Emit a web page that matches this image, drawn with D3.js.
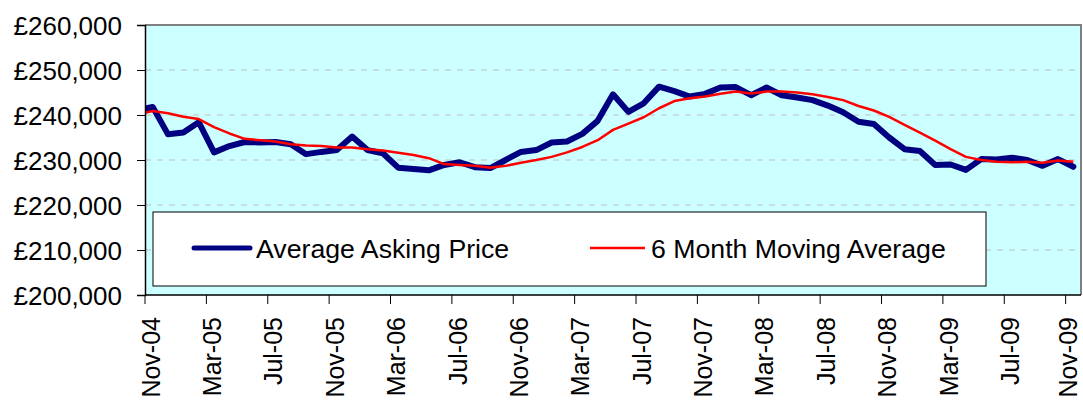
<!DOCTYPE html>
<html>
<head>
<meta charset="utf-8">
<script src="https://cdn.jsdelivr.net/npm/d3@7/dist/d3.min.js"></script>
<style>
  html, body { margin: 0; padding: 0; background: #ffffff; }
  svg { display: block; }
  text { font-family: "Liberation Sans", Arial, Helvetica, sans-serif; fill: #000; }
</style>
</head>
<body>
<svg id="chart" width="1083" height="401"></svg>
<script>
// Months (first one lies just left of the visible axis and is clipped)
const categories = [
  "Oct-04","Nov-04","Dec-04","Jan-05","Feb-05","Mar-05","Apr-05","May-05","Jun-05","Jul-05","Aug-05","Sep-05","Oct-05",
  "Nov-05","Dec-05","Jan-06","Feb-06","Mar-06","Apr-06","May-06","Jun-06","Jul-06","Aug-06","Sep-06","Oct-06",
  "Nov-06","Dec-06","Jan-07","Feb-07","Mar-07","Apr-07","May-07","Jun-07","Jul-07","Aug-07","Sep-07","Oct-07",
  "Nov-07","Dec-07","Jan-08","Feb-08","Mar-08","Apr-08","May-08","Jun-08","Jul-08","Aug-08","Sep-08","Oct-08",
  "Nov-08","Dec-08","Jan-09","Feb-09","Mar-09","Apr-09","May-09","Jun-09","Jul-09","Aug-09","Sep-09","Oct-09","Nov-09"
];
const askingPrice = [
  241100,241800,235700,236100,238400,231700,233100,234000,233900,234000,233500,231300,231800,
  232200,235200,232200,231500,228300,228000,227700,228900,229500,228400,228200,230000,
  231800,232200,233900,234100,235800,238700,244600,240700,242600,246300,245300,244100,
  244700,246100,246200,244400,246100,244400,243900,243300,242100,240600,238500,238000,
  235000,232400,232000,228900,229000,227800,230200,230100,230500,230000,228700,230200,228500
];
const movingAverage = [
  240100,240900,240400,239600,239100,237300,235900,234700,234400,234100,233500,233200,233100,
  232800,232800,232400,232100,231600,231100,230400,229100,228900,228700,228300,228700,
  229400,230000,230700,231700,232900,234400,236700,238100,239500,241500,243100,243700,
  244100,244700,245200,244800,245200,245200,245000,244600,244000,243300,242000,241000,
  239600,237800,236100,234300,232400,230700,230000,229600,229500,229600,229400,229900,229600
];
const tickLabels = ["Nov-04","Mar-05","Jul-05","Nov-05","Mar-06","Jul-06","Nov-06","Mar-07",
  "Jul-07","Nov-07","Mar-08","Jul-08","Nov-08","Mar-09","Jul-09","Nov-09"];
const yTicks = [200000,210000,220000,230000,240000,250000,260000];
const seriesNames = ["Average Asking Price","6 Month Moving Average"];

const svg = d3.select("#chart");
const L = 145, R = 1081, T = 25, B = 295;

// index scale: category i centred at i, first visible category (index 1) occupies [0.5,1.5]
const x = d3.scaleLinear().domain([0.5, categories.length - 0.5]).range([L, R]);
const y = d3.scaleLinear().domain([200000, 260000]).range([B, T]);

// plot background
svg.append("rect").attr("x", L).attr("y", T).attr("width", R - L).attr("height", B - T)
  .attr("fill", "#CCFFFF");

svg.append("defs").append("clipPath").attr("id", "plotclip")
  .append("rect").attr("x", L).attr("y", T).attr("width", R - L).attr("height", B - T);

// gridlines
svg.append("g").selectAll("line").data(yTicks.filter(v => v > 200000 && v < 260000)).join("line")
  .attr("x1", L).attr("x2", R).attr("y1", d => y(d)).attr("y2", d => y(d))
  .attr("stroke", "#C0C0C0").attr("stroke-width", 1).attr("stroke-dasharray", "6,6");

// frame (top/right grey)
svg.append("path")
  .attr("d", `M${L},${T}H${R}V${B}`)
  .attr("fill", "none").attr("stroke", "#808080").attr("stroke-width", 2);

// series
const lineGen = d3.line().x((d, i) => x(i)).y(d => y(d));
const plot = svg.append("g").attr("clip-path", "url(#plotclip)");
plot.append("path").datum(askingPrice).attr("d", lineGen)
  .attr("fill", "none").attr("stroke", "#000080").attr("stroke-width", 6)
  .attr("stroke-linejoin", "round").attr("stroke-linecap", "round");
plot.append("path").datum(movingAverage).attr("d", lineGen)
  .attr("fill", "none").attr("stroke", "#FF0000").attr("stroke-width", 2.5)
  .attr("stroke-linejoin", "round");

// Y axis
const yAxis = d3.axisLeft(y).tickValues(yTicks).tickSize(8).tickPadding(15)
  .tickFormat(d => "£" + d3.format(",")(d));
const gy = svg.append("g").attr("transform", `translate(${L},0)`).call(yAxis);
gy.select(".domain").attr("stroke", "#000").attr("stroke-width", 1.5);
gy.selectAll(".tick line").attr("stroke", "#000");
gy.selectAll(".tick text").attr("font-size", 26).attr("font-family", "Liberation Sans, Arial, sans-serif")
  .attr("fill", "#000").attr("dy", "0.35em");

// X axis: ticks at category boundaries every 4 months, labels at category centres
const labelIdx = tickLabels.map(l => categories.indexOf(l));
const gx = svg.append("g");
gx.append("line").attr("x1", L).attr("x2", R).attr("y1", B).attr("y2", B)
  .attr("stroke", "#000").attr("stroke-width", 1.5);
gx.selectAll("line.tick").data(labelIdx).join("line").attr("class", "tick")
  .attr("x1", d => x(d - 0.5)).attr("x2", d => x(d - 0.5))
  .attr("y1", B).attr("y2", B + 9).attr("stroke", "#000").attr("stroke-width", 1);
gx.selectAll("text").data(labelIdx).join("text")
  .attr("transform", d => `translate(${Math.min(x(d) + 7, 1077)},317) rotate(-90)`)
  .attr("text-anchor", "end").attr("font-size", 25)
  .text(d => categories[d]);

// legend
const lg = svg.append("g");
lg.append("rect").attr("x", 153).attr("y", 212).attr("width", 833).attr("height", 74)
  .attr("fill", "#fff").attr("stroke", "#000").attr("stroke-width", 1);
lg.append("line").attr("x1", 194).attr("x2", 250).attr("y1", 248).attr("y2", 248)
  .attr("stroke", "#000080").attr("stroke-width", 5).attr("stroke-linecap", "round");
lg.append("text").attr("x", 256).attr("y", 258).attr("font-size", 26.7).text(seriesNames[0]);
lg.append("line").attr("x1", 590).attr("x2", 645).attr("y1", 248).attr("y2", 248)
  .attr("stroke", "#FF0000").attr("stroke-width", 2.5);
lg.append("text").attr("x", 651).attr("y", 258).attr("font-size", 26.7).text(seriesNames[1]);
</script>
</body>
</html>
